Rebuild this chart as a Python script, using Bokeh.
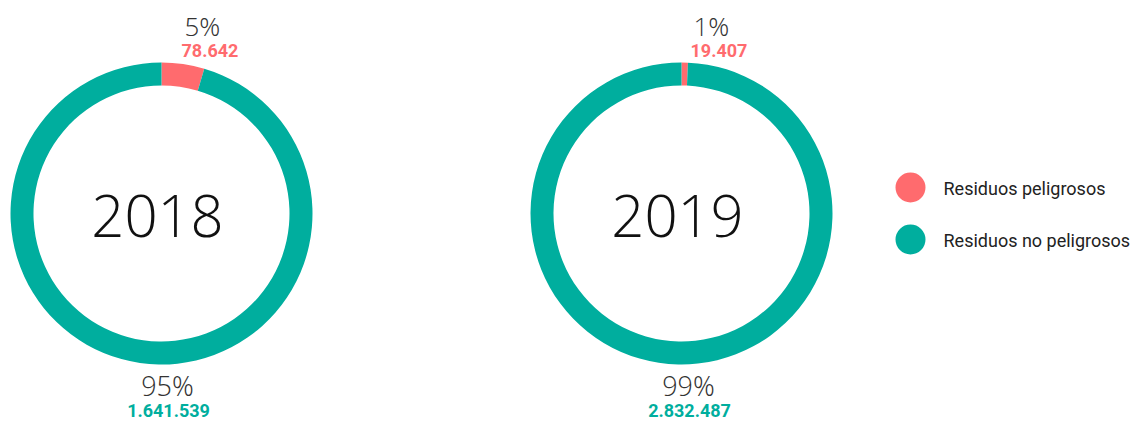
import math
from bokeh.plotting import figure
from bokeh.models import Range1d, ColumnDataSource
from bokeh.core.properties import value
from bokeh.embed import file_html
from bokeh.resources import INLINE

# ---- data ----
years = ["2018", "2019"]
categories = ["Residuos peligrosos", "Residuos no peligrosos"]
peligrosos = [78642, 19407]
no_peligrosos = [1641539, 2832487]
peligrosos_labels = ["78.642", "19.407"]
no_peligrosos_labels = ["1.641.539", "2.832.487"]
colors = ["#FF6B6E", "#00AE9E"]

# ---- layout (page pixels) ----
W, H = 1144, 423
centers_x = [161, 681]
center_py = 213
outer_r, inner_r = 151, 128
top_label_dx = [23, 12]
bottom_label_dx = [6, 7]

def py(y):
    return H - y

p = figure(width=W, height=H, output_backend="svg", toolbar_location=None,
           x_range=Range1d(0, W), y_range=Range1d(0, H), min_border=0)
p.axis.visible = False
p.grid.visible = False
p.outline_line_color = None
p.background_fill_color = "white"
p.border_fill_color = "white"

thin = value("Open Sans Light")
bold_font = value("Roboto")

for i, yr in enumerate(years):
    cx = centers_x[i]
    cy = py(center_py)
    total = peligrosos[i] + no_peligrosos[i]
    frac = peligrosos[i] / total
    start = math.pi / 2
    mid = start - frac * 2 * math.pi
    src = ColumnDataSource(dict(
        x=[cx, cx], y=[cy, cy],
        s=[start, mid], e=[mid, start - 2 * math.pi + 1e-9],
        c=colors,
    ))
    p.annular_wedge(x="x", y="y", inner_radius=inner_r, outer_radius=outer_r,
                    inner_radius_units="screen", outer_radius_units="screen",
                    start_angle="s", end_angle="e", direction="clock",
                    fill_color="c", line_color=None, source=src)
    # center year
    p.text(x=[cx - 4], y=[py(215)], text=[yr], text_font=thin,
           text_font_size="58px", text_color="#111111", text_align="center",
           text_baseline="middle")
    pct_p = round(frac * 100)
    pct_n = 100 - pct_p
    # top labels
    p.text(x=[cx + top_label_dx[i]], y=[py(25)], text=[f"{pct_p}%"], text_font=thin,
           text_font_size="26px", text_color="#333333", text_align="left",
           text_baseline="middle")
    p.text(x=[cx + top_label_dx[i] - 3], y=[py(50)], text=[peligrosos_labels[i]],
           text_font=bold_font, text_font_style="bold", text_font_size="18px",
           text_color=colors[0], text_align="left", text_baseline="middle")
    # bottom labels
    p.text(x=[cx + bottom_label_dx[i]], y=[py(385)], text=[f"{pct_n}%"], text_font=thin,
           text_font_size="27px", text_color="#333333", text_align="center",
           text_baseline="middle")
    p.text(x=[cx + bottom_label_dx[i] + 1], y=[py(410)], text=[no_peligrosos_labels[i]],
           text_font=bold_font, text_font_style="bold", text_font_size="18px",
           text_color=colors[1], text_align="center", text_baseline="middle")

# legend
leg_x = 910
leg_py = [187, 239]
p.scatter(x=[leg_x] * 2, y=[py(v) for v in leg_py], size=30, marker="circle",
          fill_color=colors, line_color=None)
p.text(x=[leg_x + 33] * 2, y=[py(v + 1) for v in leg_py], text=categories,
       text_font=value("Roboto"), text_font_size="18px", text_color="#222222",
       text_align="left", text_baseline="middle")

open("out.html", "w").write(file_html(p, INLINE))
